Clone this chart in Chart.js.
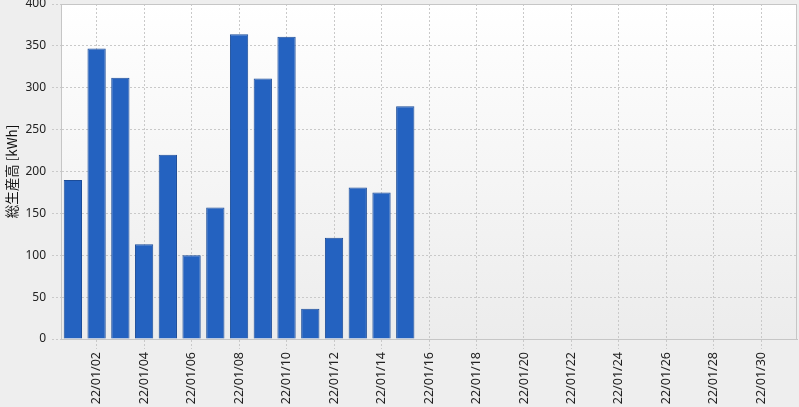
<!DOCTYPE html>
<html>
<head>
<meta charset="utf-8">
<script src="https://cdn.jsdelivr.net/npm/chart.js@4"></script>
<style>
    html, body { margin: 0; padding: 0; background: #eeeeee; }
    #wrap { width: 799px; height: 407px; }
</style>
</head>
<body>
<div id="wrap"><canvas id="chart1"></canvas></div>
<script>
// Daily total production, January 2022 (only the first 15 days have data)
const days = [];
for (let d = 1; d <= 31; d++) days.push('22/01/' + String(d).padStart(2, '0'));
const production = [190, 347, 312, 113, 220, 100, 157, 364, 311, 361, 36, 121, 181, 175, 278];
const yTicks = { min: 0, max: 400, step: 50 };
const yTitle = '総生産高 [kWh]';

const gridColor = '#c9c9c9';
const tickFont = { family: 'Noto Sans', size: 12 };

// plot background gradient + frame
const plotBg = {
    id: 'plotBg',
    beforeDraw(chart) {
        const { ctx, chartArea: a } = chart;
        const g = ctx.createLinearGradient(0, a.top, 0, a.bottom);
        g.addColorStop(0, '#ffffff');
        g.addColorStop(1, '#ececec');
        ctx.save();
        ctx.fillStyle = g;
        ctx.fillRect(a.left, a.top, a.right - a.left, a.bottom - a.top);
        ctx.restore();
    },
    afterDraw(chart) {
        const { ctx, chartArea: a } = chart;
        ctx.save();
        ctx.strokeStyle = '#c6c6c6';
        ctx.lineWidth = 1;
        ctx.strokeRect(a.left + 0.5, a.top + 0.5, a.right - a.left - 1, a.bottom - a.top);
        ctx.restore();
    }
};

new Chart(document.getElementById('chart1'), {
    type: 'bar',
    data: {
        labels: days,
        datasets: [{
            label: yTitle,
            data: production,
            backgroundColor: '#2462c0',
            borderColor: '#1c4c98',
            borderWidth: 1,
            categoryPercentage: 1,
            barPercentage: 0.77
        }]
    },
    options: {
        responsive: true,
        maintainAspectRatio: false,
        animation: false,
        layout: { padding: { top: 4, right: 2, left: 0, bottom: 0 } },
        plugins: { legend: { display: false }, tooltip: { enabled: false } },
        scales: {
            x: {
                offset: true,
                grid: {
                    offset: false,
                    color: gridColor,
                    tickColor: gridColor,
                    tickLength: 10,
                    tickBorderDash: [2, 2]
                },
                border: { color: '#c6c6c6', dash: [2, 2] },
                ticks: {
                    autoSkip: false,
                    maxRotation: 90,
                    minRotation: 90,
                    padding: 3,
                    color: '#222',
                    font: { family: 'Noto Sans', size: 12.5 },
                    callback: function(value, index) {
                        return index % 2 === 1 ? this.getLabelForValue(value) : null;
                    }
                },
                afterFit: scale => {
                    scale.height = 68;
                    scale.paddingLeft = 0;
                    scale.paddingRight = 0;
                }
            },
            y: {
                min: yTicks.min,
                max: yTicks.max,
                grid: {
                    color: gridColor,
                    tickColor: gridColor,
                    tickLength: 9,
                    tickBorderDash: [2, 2]
                },
                border: { color: '#c6c6c6', dash: [2, 2] },
                ticks: {
                    stepSize: yTicks.step,
                    padding: 6,
                    color: '#222',
                    font: tickFont
                },
                title: {
                    display: true,
                    text: yTitle,
                    color: '#111',
                    font: { family: 'Noto Sans CJK JP', size: 13.5 },
                    padding: { top: 4, bottom: 0 }
                },
                afterFit: scale => {
                    scale.width = 61;
                    scale.paddingTop = 0;
                    scale.paddingBottom = 0;
                }
            }
        }
    },
    plugins: [plotBg]
});
</script>
</body>
</html>
